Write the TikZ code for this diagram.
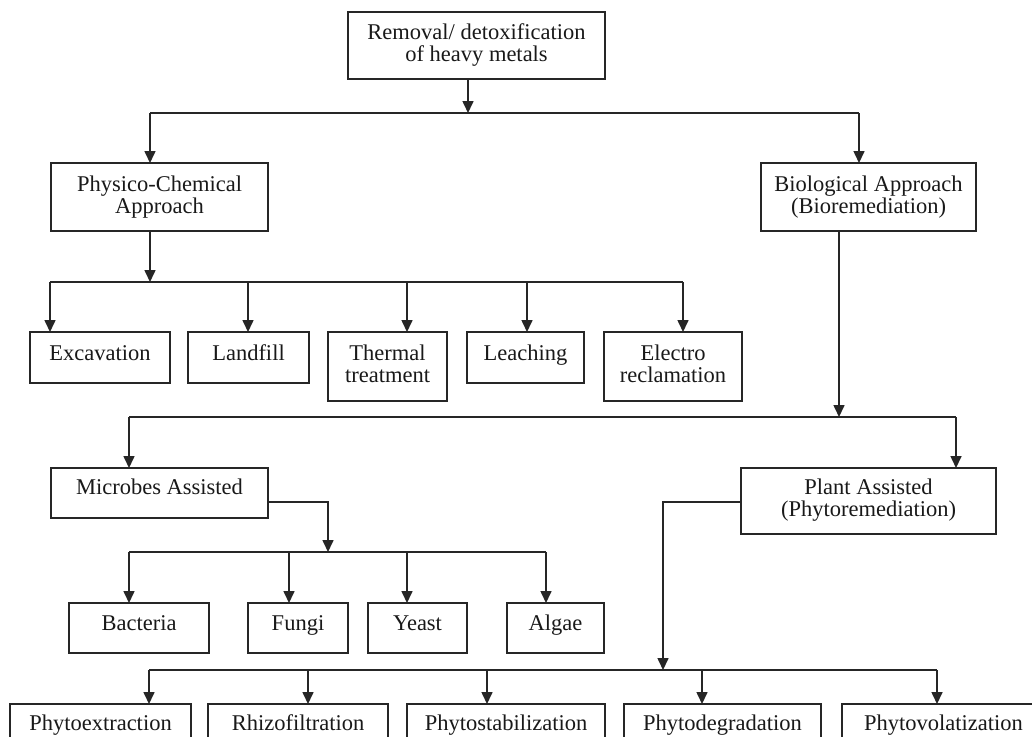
\documentclass[tikz,border=0pt]{standalone}
\usepackage{fontspec}
\setmainfont{Liberation Serif}
\usetikzlibrary{arrows.meta,calc}
\begin{document}
\begin{tikzpicture}[x=1pt,y=-1pt,
  box/.style={draw=black!85,line width=1.6pt,inner sep=0pt,outer sep=0pt,fill=white},
  lbl/.style={inner sep=0pt,align=center,font=\fontsize{22.5}{22}\selectfont,text=black!90,
    execute at begin node=\strut,execute at end node=\strut},
  ln/.style={draw=black!85,line width=1.6pt},
  arr/.style={ln,-{Triangle[width=11pt,length=12pt]}}]
\useasboundingbox (0,0) rectangle (1032,736);
\clip (0,0) rectangle (1032,736);
\fill[white] (0,0) rectangle (1032,736);
\newcommand\mybox[7]{%
  \node[box,minimum width={#4-#2},minimum height={#5-#3}] (#1) at ({(#2+#4)/2},{(#3+#5)/2}) {};
  \node[lbl] (#1t) at ({(#2+#4)/2},{#6+3}) {#7};}
% boxes
\mybox{top}{348}{12}{605}{79}{42.5}{Removal/ detoxification\\of heavy metals}
\mybox{phys}{51}{163}{268}{231}{195}{Physico-Chemical\\Approach}
\mybox{bio}{761}{163}{976}{231}{195}{Biological Approach\\(Bioremediation)}
\mybox{exc}{30}{332}{170}{383}{353}{Excavation}
\mybox{land}{188}{332}{309}{383}{353}{Landfill}
\mybox{therm}{328}{332}{447}{401}{364}{Thermal\\treatment}
\mybox{leach}{467}{332}{584}{383}{353}{Leaching}
\mybox{elec}{604}{332}{742}{401}{364}{Electro\\reclamation}
\mybox{mic}{51}{468}{268}{518}{487}{Microbes Assisted}
\mybox{plant}{741}{468}{996}{534}{498}{Plant Assisted\\(Phytoremediation)}
\mybox{bac}{69}{603}{209}{653}{623}{Bacteria}
\mybox{fun}{248}{603}{348}{653}{623}{Fungi}
\mybox{yea}{368}{603}{467}{653}{623}{Yeast}
\mybox{alg}{507}{603}{604}{653}{623}{Algae}
\mybox{pex}{10}{704}{191}{770}{723}{Phytoextraction}
\mybox{rhi}{208}{704}{388}{770}{723}{Rhizofiltration}
\mybox{pst}{407}{704}{605}{770}{723}{Phytostabilization}
\mybox{pde}{624}{704}{821}{770}{723}{Phytodegradation}
\mybox{pvo}{842}{704}{1045}{770}{723}{Phytovolatization}
% junction coordinates
\coordinate (j1) at (468,113);
\coordinate (b1l) at (150,113);
\coordinate (b1r) at (859,113);
\coordinate (j2) at (150,282);
\coordinate (j3) at (839,417);
\coordinate (b3l) at (129,417);
\coordinate (b3r) at (956,417);
\coordinate (j4) at (328,552);
\coordinate (j5) at (663,670);
% level 1
\draw[arr] (top.south -| j1) -- (j1);
\draw[ln] (b1l) -- (b1r);
\draw[arr] (b1l) -- (b1l |- phys.north);
\draw[arr] (b1r) -- (b1r |- bio.north);
% physico-chemical
\draw[arr] (phys.south -| j2) -- (j2);
\draw[ln] (50,282) -- (683,282);
\foreach \x/\n in {50/exc,248/land,407/therm,527/leach,683/elec}
  \draw[arr] (\x,282) -- (\x,282 |- \n.north);
% biological
\draw[arr] (bio.south -| j3) -- (j3);
\draw[ln] (b3l) -- (b3r);
\draw[arr] (b3l) -- (b3l |- mic.north);
\draw[arr] (b3r) -- (b3r |- plant.north);
% microbes
\draw[arr] (mic.east |- 0,502) -| (j4);
\draw[ln] (129,552) -- (546,552);
\foreach \x/\n in {129/bac,289/fun,407/yea,546/alg}
  \draw[arr] (\x,552) -- (\x,552 |- \n.north);
% plants
\draw[arr] (plant.west |- 0,502) -| (j5);
\draw[ln] (149,670) -- (937,670);
\foreach \x/\n in {149/pex,308/rhi,487/pst,702/pde,937/pvo}
  \draw[arr] (\x,670) -- (\x,670 |- \n.north);
\end{tikzpicture}
\end{document}
